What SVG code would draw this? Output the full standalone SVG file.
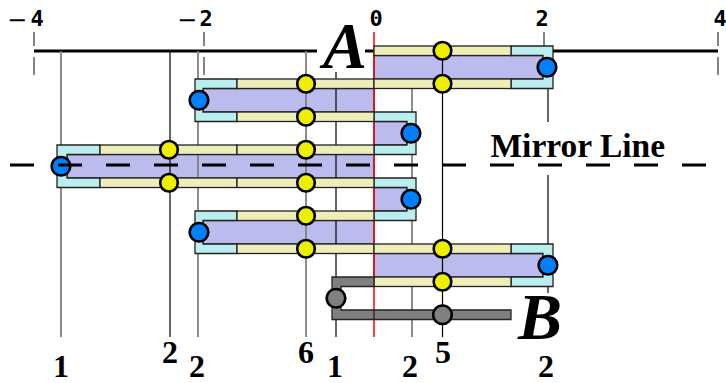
<svg xmlns="http://www.w3.org/2000/svg" width="726" height="383" viewBox="0 0 726 383">
<style>
.band{fill:#BBBBEE;stroke:#222;stroke-width:1.3}
.cap{fill:#BBEEEE;stroke:#222;stroke-width:1.3}
.trk{fill:#EEEEBB;stroke:#222;stroke-width:1.3}
.gry{fill:#808080;stroke:#222;stroke-width:1.3}
.yc{fill:#EEEE00;stroke:#000;stroke-width:2.6}
.bc{fill:#0080FF;stroke:#000;stroke-width:2.6}
.gc{fill:#808080;stroke:#000;stroke-width:2.6}
.gl{stroke:#808080;stroke-width:1.8;fill:none}
.bl{stroke:#000;stroke-width:1.2;fill:none}
.tick{stroke:#666;stroke-width:1.6;fill:none}
.axis{stroke:#000;stroke-width:3.2;fill:none}
.tn{font-family:"DejaVu Sans Mono",monospace;font-weight:bold;font-size:22px;fill:#000;text-anchor:middle}
.tm{font-family:"DejaVu Sans",sans-serif;font-weight:normal;font-size:24px;fill:#000;text-anchor:middle}
.lab{font-family:"Liberation Serif",serif;font-weight:bold;font-size:32px;fill:#000;text-anchor:middle}
.big{font-family:"Liberation Serif",serif;font-weight:bold;font-style:italic;font-size:66px;fill:#000}
.ml{font-family:"Liberation Serif",serif;font-weight:bold;font-size:33.5px;fill:#000}
</style>

<g id="axis">
<line class="axis" x1="34" y1="51" x2="317" y2="51"/>
<line class="axis" x1="365" y1="51" x2="718" y2="51"/>
<line class="tick" x1="34" y1="32" x2="34" y2="46"/>
<line class="tick" x1="34" y1="57" x2="34" y2="75"/>
<line class="tick" x1="204" y1="32" x2="204" y2="46"/>
<line class="tick" x1="204" y1="57" x2="204" y2="75"/>
<line class="tick" x1="544" y1="32" x2="544" y2="46"/>
<line class="tick" x1="718" y1="32" x2="718" y2="46"/>
<line class="tick" x1="718" y1="57" x2="718" y2="75"/>
<text class="tm" x="17" y="28">−</text>
<text class="tn" x="37" y="26">4</text>
<text class="tm" x="187" y="28">−</text>
<text class="tn" x="206" y="26">2</text>
<text class="tn" x="376" y="26">0</text>
<text class="tn" x="542" y="26">2</text>
<text class="tn" x="720" y="26">4</text>
</g>

<g id="connectors">
<line class="gl" x1="412" y1="88" x2="412" y2="337"/>
</g>

<g id="bands">
<rect class="band" x="374" y="55.5" width="169" height="23.5"/>
<rect class="band" x="203" y="88.5" width="171" height="23.5"/>
<rect class="band" x="374" y="121.5" width="33" height="23.5"/>
<rect class="band" x="67" y="154.5" width="307" height="23.5"/>
<rect class="band" x="374" y="187.5" width="33" height="23.5"/>
<rect class="band" x="203" y="220.5" width="171" height="23.5"/>
<rect class="band" x="374" y="253.5" width="169" height="23.5"/>
</g>

<g id="lines">
<line class="gl" x1="61" y1="51" x2="61" y2="337"/>
<line class="bl" x1="170" y1="51" x2="170" y2="337"/>
<line class="gl" x1="198" y1="51" x2="198" y2="337"/>
<line class="gl" x1="306" y1="51" x2="306" y2="337"/>
<line class="bl" x1="336" y1="72" x2="336" y2="337"/>
<line class="bl" x1="442.5" y1="51" x2="442.5" y2="337"/>
<line class="bl" x1="548" y1="88" x2="548" y2="122"/>
<line class="bl" x1="548" y1="175" x2="548" y2="293"/>
<line stroke="#FF0000" stroke-width="1.5" x1="374" y1="32" x2="374" y2="337"/>
</g>

<g id="caps">
<path class="cap" d="M511,46H553V88.5H511V79H543V55.5H511Z"/>
<path class="cap" d="M237,79H195V121.5H237V112H203V88.5H237Z"/>
<path class="cap" d="M374,112H416V154.5H374V145H407V121.5H374Z"/>
<path class="cap" d="M100,145H57V187.5H100V178H67V154.5H100Z"/>
<path class="cap" d="M374,178H416V220.5H374V211H407V187.5H374Z"/>
<path class="cap" d="M237,211H195V253.5H237V244H203V220.5H237Z"/>
<path class="cap" d="M511,244H553V286.5H511V277H543V253.5H511Z"/>
</g>

<g id="tracks">
<rect class="trk" x="374" y="46" width="137" height="9.5"/>
<rect class="trk" x="237" y="79" width="137" height="9.5"/>
<rect class="trk" x="374" y="79" width="137" height="9.5"/>
<rect class="trk" x="237" y="112" width="137" height="9.5"/>
<rect class="trk" x="100" y="145" width="137" height="9.5"/>
<rect class="trk" x="237" y="145" width="137" height="9.5"/>
<rect class="trk" x="100" y="178" width="137" height="9.5"/>
<rect class="trk" x="237" y="178" width="137" height="9.5"/>
<rect class="trk" x="237" y="211" width="137" height="9.5"/>
<rect class="trk" x="237" y="244" width="137" height="9.5"/>
<rect class="trk" x="374" y="244" width="137" height="9.5"/>
<rect class="trk" x="374" y="277" width="137" height="9.5"/>
</g>

<g id="gray-bracket">
<path class="gry" d="M374,277H332V319.5H511V310H341V286.5H374Z"/>
<line stroke="#222" stroke-width="1.3" x1="374" y1="310" x2="374" y2="319.5"/>
</g>

<g id="yellow-nodes">
<circle class="yc" cx="442.5" cy="50.75" r="8.8"/>
<circle class="yc" cx="442.5" cy="83.75" r="8.8"/>
<circle class="yc" cx="306" cy="83.75" r="8.8"/>
<circle class="yc" cx="306" cy="116.75" r="8.8"/>
<circle class="yc" cx="169" cy="149.75" r="8.8"/>
<circle class="yc" cx="306" cy="149.75" r="8.8"/>
<circle class="yc" cx="169" cy="182.75" r="8.8"/>
<circle class="yc" cx="306" cy="182.75" r="8.8"/>
<circle class="yc" cx="306" cy="215.75" r="8.8"/>
<circle class="yc" cx="306" cy="248.75" r="8.8"/>
<circle class="yc" cx="442.5" cy="248.75" r="8.8"/>
<circle class="yc" cx="442.5" cy="281.75" r="8.8"/>
</g>

<g id="blue-nodes">
<circle class="bc" cx="547" cy="67.25" r="9.3"/>
<circle class="bc" cx="199" cy="100.25" r="9.3"/>
<circle class="bc" cx="411" cy="133.25" r="9.3"/>
<circle class="bc" cx="61" cy="166.25" r="9.3"/>
<circle class="bc" cx="411" cy="199.25" r="9.3"/>
<circle class="bc" cx="199" cy="232.25" r="9.3"/>
<circle class="bc" cx="548" cy="265.25" r="9.3"/>
</g>

<g id="gray-nodes">
<circle class="gc" cx="336" cy="298.25" r="9.3"/>
<circle class="gc" cx="442.5" cy="314.75" r="9.3"/>
</g>

<g id="mirror">
<line x1="10" y1="165" x2="706" y2="165" stroke="#000" stroke-width="3" stroke-dasharray="24 24"/>
<text class="ml" x="490.5" y="157">Mirror Line</text>
</g>

<g id="labels">
<text class="big" x="323" y="68">A</text>
<text class="big" x="518" y="339">B</text>
<text class="lab" x="170" y="363">2</text>
<text class="lab" x="306" y="363">6</text>
<text class="lab" x="443" y="363">5</text>
<text class="lab" x="61" y="377">1</text>
<text class="lab" x="197" y="377">2</text>
<text class="lab" x="335" y="377">1</text>
<text class="lab" x="410" y="377">2</text>
<text class="lab" x="546" y="377">2</text>
</g>
</svg>
